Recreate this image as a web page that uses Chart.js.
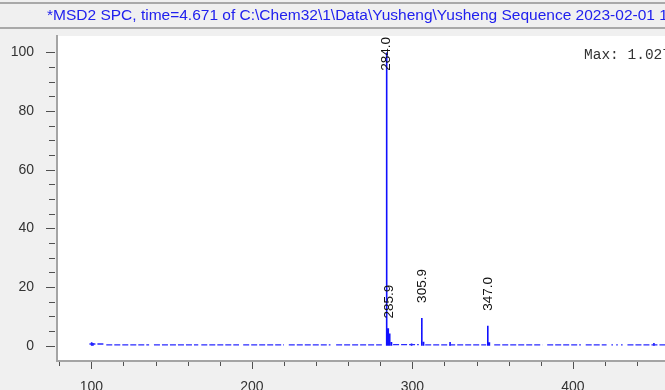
<!DOCTYPE html>
<html>
<head>
<meta charset="utf-8">
<title>MSD2 SPC</title>
<script src="https://cdn.jsdelivr.net/npm/chart.js@4.4.1/dist/chart.umd.min.js"></script>
<style>
    html, body { margin: 0; padding: 0; background: #f0f0f0; overflow: hidden; }
    canvas { display: block; }
</style>
</head>
<body>
<canvas id="specChart" width="665" height="390"></canvas>
<script>
// Spectrum data (m/z, abundance in %)
const peakMz    = [100.2, 101.0, 284.0, 285.0, 285.9, 287.0, 299.5, 305.9, 307.0, 323.5, 347.0, 348.0, 450.5];
const peakAbund = [1.2,   0.9,   100,   6.0,   4.2,   1.3,   0.8,   9.5,   1.4,   1.3,   6.8,   1.2,   0.9];
const labeledMz = [284.0, 285.9, 305.9, 347.0];

// baseline noise runs (m/z from..to, level in %)
const noiseFrom  = [98.8, 109.3, 139.0, 168.5, 194.6, 223.0, 252.5, 288.0, 308.0, 351.0, 384.0, 408.0, 424.0, 427.0, 430.0, 434.0];
const noiseTo    = [107.5, 136.0, 166.6, 192.0, 220.0, 249.0, 281.0, 304.0, 346.0, 381.0, 405.0, 421.0, 425.0, 428.0, 431.0, 457.4];
const noiseLevel = [0.6,  0.3,   0.3,   0.3,   0.3,   0.3,   0.3,   0.4,   0.3,   0.3,   0.3,   0.3,   0.3,   0.3,   0.3,   0.3];

const xTicksMajor = [100, 200, 300, 400];
const yTicksMajor = [0, 20, 40, 60, 80, 100];

const titleText = '*MSD2 SPC, time=4.671 of C:\\Chem32\\1\\Data\\Yusheng\\Yusheng Sequence 2023-02-01 1';
const maxText = 'Max: 1.027';

// build line points, nulls break the line between runs
function buildNoise() {
    const pts = [];
    for (let i = 0; i < noiseFrom.length; i++) {
        pts.push({ x: noiseFrom[i], y: noiseLevel[i] });
        pts.push({ x: noiseTo[i], y: noiseLevel[i] });
        pts.push({ x: noiseTo[i], y: null });
    }
    return pts;
}

function buildSticks() {
    const pts = [];
    for (let i = 0; i < peakMz.length; i++) {
        pts.push({ x: peakMz[i], y: 0 });
        pts.push({ x: peakMz[i], y: peakAbund[i] });
        pts.push({ x: peakMz[i], y: null });
    }
    return pts;
}

// background, title bar and plot area
const framePlugin = {
    id: 'frame',
    beforeDraw(chart) {
        const ctx = chart.ctx;
        const area = chart.chartArea;
        ctx.save();
        ctx.fillStyle = '#f0f0f0';
        ctx.fillRect(0, 0, chart.width, chart.height);
        ctx.fillStyle = '#a9a9a9';
        ctx.fillRect(0, 2, chart.width, 2);
        ctx.fillRect(0, 27, chart.width, 2);
        ctx.fillStyle = '#ffffff';
        ctx.fillRect(area.left, area.top, area.right - area.left, area.bottom - area.top);
        ctx.font = '15.5px "Liberation Sans", Arial, sans-serif';
        ctx.fillStyle = '#2020ee';
        ctx.textBaseline = 'middle';
        ctx.fillText(titleText, 47, 16);
        ctx.restore();
    },
    afterDraw(chart) {
        const ctx = chart.ctx;
        const xs = chart.scales.x;
        const ys = chart.scales.y;
        ctx.save();
        ctx.strokeStyle = '#505050';
        ctx.lineWidth = 1;
        ctx.beginPath();
        ys.ticks.forEach(t => {
            const py = Math.round(ys.getPixelForValue(t.value)) + 0.5;
            const len = yTicksMajor.includes(t.value) ? 9 : 6;
            ctx.moveTo(ys.right - 2, py);
            ctx.lineTo(ys.right - 2 - len, py);
        });
        xs.ticks.forEach(t => {
            const px = Math.round(xs.getPixelForValue(t.value)) + 0.5;
            const len = xTicksMajor.includes(t.value) ? 7 : 4;
            ctx.moveTo(px, xs.top + 1);
            ctx.lineTo(px, xs.top + 1 + len);
        });
        ctx.stroke();

        ctx.font = '14.5px "Liberation Mono", "Courier New", monospace';
        ctx.fillStyle = '#333333';
        ctx.textBaseline = 'middle';
        ctx.fillText(maxText, 584, 55);
        ctx.restore();
    }
};

// rotated m/z labels above the labeled peaks
const peakLabelPlugin = {
    id: 'peakLabels',
    afterDatasetsDraw(chart) {
        const ctx = chart.ctx;
        const xs = chart.scales.x;
        const ys = chart.scales.y;
        const top = chart.chartArea.top;
        ctx.save();
        ctx.font = '13.5px "Liberation Sans", Arial, sans-serif';
        ctx.fillStyle = '#111111';
        ctx.textBaseline = 'middle';
        ctx.textAlign = 'left';
        labeledMz.forEach(mz => {
            const idx = peakMz.indexOf(mz);
            const txt = mz.toFixed(1);
            const w = ctx.measureText(txt).width;
            const px = xs.getPixelForValue(mz);
            let bottom = ys.getPixelForValue(peakAbund[idx]) - 15;
            if (bottom - w < top + 1) bottom = top + 1 + w;
            ctx.save();
            ctx.translate(px, bottom);
            ctx.rotate(-Math.PI / 2);
            ctx.fillText(txt, 0, 0);
            ctx.restore();
        });
        ctx.restore();
    }
};

const ctx = document.getElementById('specChart').getContext('2d');
const chartInstance = new Chart(ctx, {
    type: 'line',
    data: {
        datasets: [
            {
                label: 'noise',
                data: buildNoise(),
                borderColor: '#2a2aff',
                borderWidth: 1.3,
                borderDash: [6, 2],
                pointRadius: 0,
                spanGaps: false,
                tension: 0
            },
            {
                label: 'peaks',
                data: buildSticks(),
                borderColor: '#1010ff',
                borderWidth: 1.6,
                pointRadius: 0,
                spanGaps: false,
                tension: 0
            }
        ]
    },
    options: {
        responsive: false,
        animation: false,
        events: [],
        layout: { padding: { top: 36, left: 0, right: 0, bottom: 0 } },
        plugins: {
            legend: { display: false },
            tooltip: { enabled: false }
        },
        scales: {
            x: {
                type: 'linear',
                min: 78.6,
                max: 457.4,
                grid: { display: false },
                border: { display: true, color: '#a4a4a4', width: 2 },
                afterFit: s => { s.height = 29; },
                afterBuildTicks: s => {
                    s.ticks = s.ticks.filter(t => t.value % 20 === 0);
                },
                ticks: {
                    stepSize: 20,
                    includeBounds: false,
                    autoSkip: false,
                    maxRotation: 0,
                    padding: 10,
                    color: '#333333',
                    font: { family: '"Liberation Sans", Arial, sans-serif', size: 14 },
                    callback: v => (xTicksMajor.includes(v) ? String(v) : '')
                }
            },
            y: {
                type: 'linear',
                min: -5.2,
                max: 105.6,
                grid: { display: false },
                border: { display: true, color: '#a4a4a4', width: 2 },
                afterFit: s => { s.width = 57; },
                afterBuildTicks: s => {
                    s.ticks = s.ticks.filter(t => t.value >= 0 && t.value <= 100 && t.value % 5 === 0);
                },
                ticks: {
                    stepSize: 5,
                    includeBounds: false,
                    autoSkip: false,
                    padding: 15,
                    color: '#333333',
                    font: { family: '"Liberation Sans", Arial, sans-serif', size: 14 },
                    callback: v => (yTicksMajor.includes(v) ? String(v) : '')
                }
            }
        }
    },
    plugins: [framePlugin, peakLabelPlugin]
});
</script>
</body>
</html>
